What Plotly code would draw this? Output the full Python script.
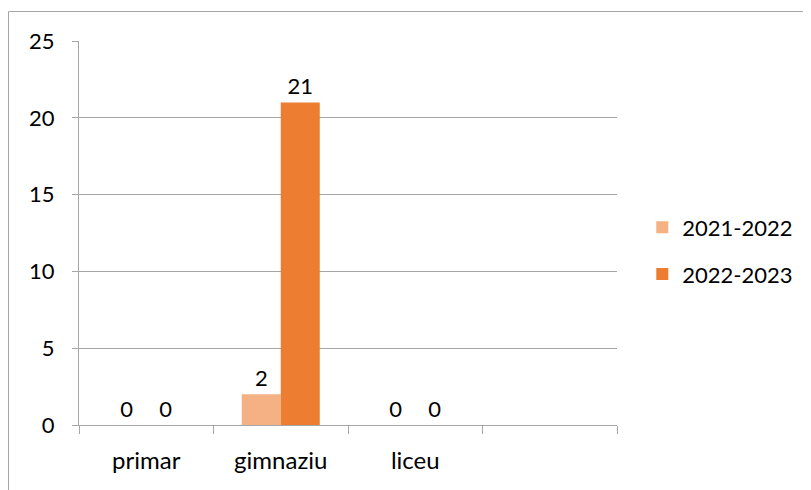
import plotly.graph_objects as go

categories = ["primar", "gimnaziu", "liceu", " "]
series_names = ["2021-2022", "2022-2023"]
values_2021 = [0, 2, 0]
values_2022 = [0, 21, 0]
colors = ["#F4B183", "#ED7D31"]
y_ticks = [0, 5, 10, 15, 20, 25]

FONT = "Lato"
W, H = 803, 482
L, T, PW, PH = 71, 33, 538, 384

fig = go.Figure()
for name, vals, col in zip(series_names, [values_2021, values_2022], colors):
    fig.add_trace(go.Bar(
        x=categories[:len(vals)], y=vals, name=name, marker_color=col,
        marker_line_width=0, legendgroup=name,
        text=[str(v) for v in vals], textposition="outside", cliponaxis=False,
        textfont=dict(family=FONT, size=22, color="#000000"),
    ))

bx = (0.5 - L) / PW
by = 1 + (T - 3.5) / PH
fig.update_layout(
    width=W, height=H,
    margin=dict(l=L, r=W - L - PW, t=T, b=H - T - PH, autoexpand=False),
    paper_bgcolor="white", plot_bgcolor="white",
    barmode="group", bargap=0.42, bargroupgap=0,
    font=dict(family=FONT, size=22, color="#000000"),
    showlegend=True,
    legend=dict(x=1.047, y=0.453, yanchor="middle", xanchor="left",
                font=dict(family=FONT, size=22, color="#000000"),
                bgcolor="rgba(0,0,0,0)", tracegroupgap=15, traceorder="grouped"),
    shapes=[
        dict(type="line", xref="paper", yref="paper", x0=bx, x1=bx, y0=-0.3, y1=by,
             line=dict(color="#A6A6A6", width=1)),
        dict(type="line", xref="paper", yref="paper", x0=bx, x1=1.4, y0=by, y1=by,
             line=dict(color="#A6A6A6", width=1)),
    ],
)
fig.update_xaxes(
    type="category", categoryorder="array", categoryarray=categories,
    range=[-0.5, 3.5], tickson="boundaries", ticks="outside", ticklen=8,
    tickcolor="#A6A6A6", showline=True, linecolor="#A6A6A6", linewidth=1,
    showgrid=False, tickfont=dict(family=FONT, size=24, color="#000000"),
    ticklabelstandoff=14, automargin=False,
)
fig.update_yaxes(
    range=[0, 25], tickvals=y_ticks, ticks="outside", ticklen=6,
    tickcolor="#A6A6A6", showline=True, linecolor="#A6A6A6", linewidth=1,
    showgrid=True, gridcolor="#A6A6A6", gridwidth=1, zeroline=False,
    tickfont=dict(family=FONT, size=22, color="#000000"), automargin=False,
    ticklabelstandoff=13,
)
fig.write_html("out.html")
